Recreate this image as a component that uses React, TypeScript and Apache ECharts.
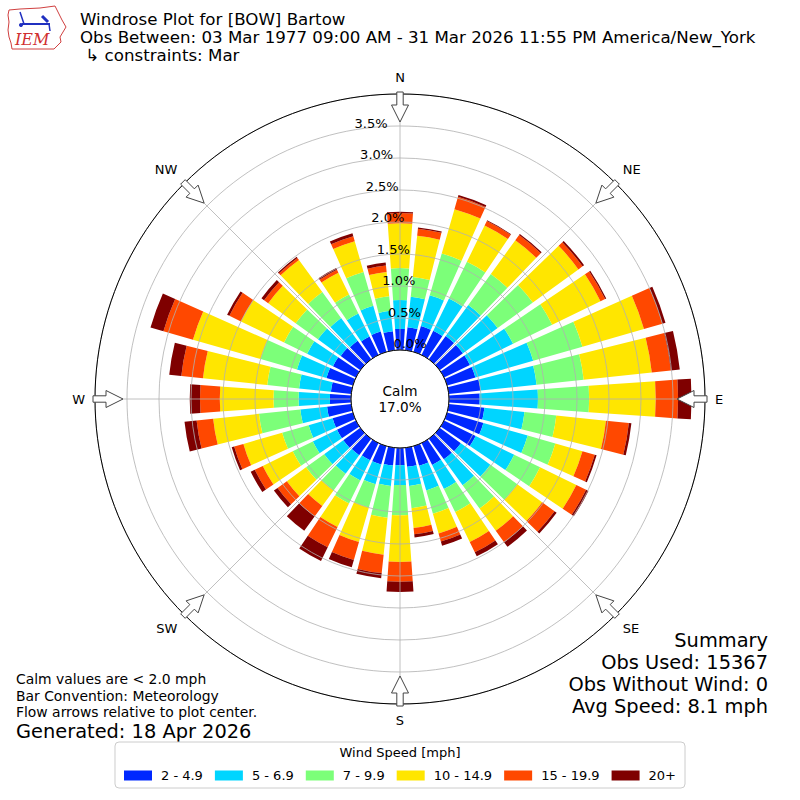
import React, { useEffect, useRef } from "react";
import * as echarts from "echarts";

// Directions (degrees, meteorological, clockwise from North)
const directions = [0, 10, 20, 30, 40, 50, 60, 70, 80, 90, 100, 110, 120, 130, 140, 150, 160, 170,
  180, 190, 200, 210, 220, 230, 240, 250, 260, 270, 280, 290, 300, 310, 320, 330, 340, 350];

const speedBins = ["2 - 4.9", "5 - 6.9", "7 - 9.9", "10 - 14.9", "15 - 19.9", "20+"];
const binColors = ["#0028ff", "#00d5ff", "#7cff79", "#ffe600", "#ff4800", "#7f0000"];

// Frequency (%) per direction for each speed bin
const bin2to5 = [0.33, 0.36, 0.42, 0.42, 0.45, 0.45, 0.45, 0.46, 0.50, 0.48, 0.56, 0.59, 0.55, 0.41, 0.40, 0.38, 0.32, 0.30,
  0.27, 0.28, 0.30, 0.30, 0.32, 0.33, 0.33, 0.33, 0.38, 0.33, 0.32, 0.43, 0.40, 0.38, 0.36, 0.32, 0.33, 0.30];
const bin5to7 = [0.45, 0.48, 0.50, 0.56, 0.60, 0.67, 0.75, 0.94, 0.88, 0.91, 0.63, 0.72, 0.67, 0.57, 0.50, 0.42, 0.40, 0.30,
  0.31, 0.32, 0.32, 0.35, 0.36, 0.37, 0.42, 0.39, 0.42, 0.49, 0.50, 0.48, 0.45, 0.44, 0.44, 0.40, 0.42, 0.32];
const bin7to10 = [0.50, 0.31, 0.68, 0.64, 0.60, 0.68, 0.68, 0.80, 0.74, 0.80, 0.50, 0.45, 0.45, 0.52, 0.45, 0.40, 0.38, 0.35,
  0.47, 0.50, 0.38, 0.40, 0.32, 0.35, 0.35, 0.43, 0.65, 0.39, 0.50, 0.59, 0.40, 0.43, 0.50, 0.33, 0.55, 0.23];
const bin10to15 = [0.70, 0.65, 0.72, 0.63, 0.65, 0.88, 0.84, 1.00, 1.07, 1.04, 0.78, 0.44, 0.63, 0.48, 0.43, 0.52, 0.32, 0.31,
  0.73, 0.58, 0.56, 0.41, 0.30, 0.37, 0.52, 0.63, 0.72, 0.84, 1.01, 1.10, 0.75, 0.53, 0.62, 0.38, 0.50, 0.38];
const bin15to20 = [0.16, 0.11, 0.20, 0.08, 0.10, 0.08, 0.08, 0.30, 0.30, 0.35, 0.36, 0.20, 0.17, 0.24, 0.22, 0.18, 0.13, 0.10,
  0.31, 0.29, 0.29, 0.35, 0.20, 0.18, 0.14, 0.15, 0.26, 0.31, 0.34, 0.48, 0.20, 0.08, 0.04, 0.05, 0.08, 0.10];
const bin20plus = [0.02, 0.02, 0.03, 0.01, 0.02, 0.03, 0.02, 0.05, 0.14, 0.21, 0.04, 0.03, 0.04, 0.04, 0.09, 0.07, 0.07, 0.05,
  0.16, 0.08, 0.12, 0.24, 0.28, 0.07, 0.07, 0.04, 0.19, 0.16, 0.19, 0.21, 0.04, 0.05, 0.02, 0.03, 0.05, 0.05];

const binValues = [bin2to5, bin5to7, bin7to10, bin10to15, bin15to20, bin20plus];

const radiusTicks = [0, 0.5, 1.0, 1.5, 2.0, 2.5, 3.0, 3.5];
const compassAngles = [0, 45, 90, 135, 180, 225, 270, 315];
const compassLabels = ["N", "NE", "E", "SE", "S", "SW", "W", "NW"];

const calmPct = "17.0%";
const titleLines = [
  "Windrose Plot for [BOW] Bartow",
  "Obs Between: 03 Mar 1977 09:00 AM - 31 Mar 2026 11:55 PM America/New_York",
  " \u21b3 constraints: Mar",
];
const noteLines = ["Calm values are < 2.0 mph", "Bar Convention: Meteorology", "Flow arrows relative to plot center."];
const generatedText = "Generated: 18 Apr 2026";
const summaryLines = ["Summary", "Obs Used: 15367", "Obs Without Wind: 0", "Avg Speed: 8.1 mph"];

const FONT = "DejaVu Sans";
const CX = 400;
const CY = 399;
const R0 = 49;
const R1 = 305;

function arrowPoints(deg: number): number[][] {
  const t = (deg * Math.PI) / 180;
  const ux = Math.sin(t), uy = -Math.cos(t);
  const px = Math.cos(t), py = Math.sin(t);
  const local = [[307, -3.2], [294, -3.2], [294, -8.5], [277, 0], [294, 8.5], [294, 3.2], [307, 3.2]];
  return local.map(([a, p]) => [CX + a * ux + p * px, CY + a * uy + p * py]);
}

export default function App() {
  const ref = useRef<HTMLDivElement>(null);
  useEffect(() => {
    if (!ref.current) return;
    const chart = echarts.init(ref.current, null, { renderer: "svg" });

    const graphics: any[] = [];
    titleLines.forEach((t, i) => {
      graphics.push({ type: "text", x: 80, y: 19 + i * 18, style: { text: t, fontSize: 16.67, lineHeight: 17, fontFamily: FONT, fill: "#000", verticalAlign: "middle" } });
    });
    noteLines.forEach((t, i) => {
      graphics.push({ type: "text", x: 16, y: 679 + i * 16.5, style: { text: t, fontSize: 13.9, lineHeight: 14, fontFamily: FONT, fill: "#000", verticalAlign: "middle" } });
    });
    graphics.push({ type: "text", x: 16, y: 731, style: { text: generatedText, fontSize: 19.4, lineHeight: 19, fontFamily: FONT, fill: "#000", verticalAlign: "middle" } });
    summaryLines.forEach((t, i) => {
      graphics.push({ type: "text", x: 768, y: 640 + i * 22, style: { text: t, fontSize: 19.4, lineHeight: 20, fontFamily: FONT, fill: "#000", align: "right", verticalAlign: "middle" } });
    });
    graphics.push({ type: "text", x: CX, y: CY, z: 20, style: { text: "Calm\n" + calmPct, fontSize: 13.6, lineHeight: 16, fontFamily: FONT, fill: "#000", align: "center", verticalAlign: "middle" } });
    compassAngles.forEach((a) => {
      graphics.push({ type: "polygon", z: 20, shape: { points: arrowPoints(a) }, style: { fill: "#fff", stroke: "#444", lineWidth: 1 } });
    });
    // legend title
    graphics.push({ type: "text", x: 400, y: 752, style: { text: "Wind Speed [mph]", fontSize: 13, fontFamily: FONT, fill: "#000", align: "center", verticalAlign: "middle" } });
    // IEM logo
    graphics.push({ type: "polyline", shape: { points: [[9, 10], [20, 9], [40, 8], [55, 6], [58, 12], [62, 20], [66, 27], [63, 32], [60, 37], [61, 42], [57, 46], [54, 49], [12, 49], [11, 43], [9, 37], [8, 30], [9, 22], [8, 15], [9, 10]] }, style: { stroke: "#d04040", lineWidth: 1, fill: "none" } });
    graphics.push({ type: "line", shape: { x1: 22, y1: 24, x2: 50, y2: 24 }, style: { stroke: "#2030c0", lineWidth: 2 } });
    graphics.push({ type: "line", shape: { x1: 20, y1: 12, x2: 24, y2: 24 }, style: { stroke: "#2030c0", lineWidth: 1.5 } });
    graphics.push({ type: "line", shape: { x1: 42, y1: 16, x2: 48, y2: 22 }, style: { stroke: "#2030c0", lineWidth: 3 } });
    graphics.push({ type: "line", shape: { x1: 49, y1: 24, x2: 50, y2: 31 }, style: { stroke: "#2030c0", lineWidth: 1.5 } });
    graphics.push({ type: "circle", shape: { cx: 21, cy: 25, r: 2 }, style: { fill: "#2030c0" } });
    graphics.push({ type: "text", x: 15, y: 39, style: { text: "IEM", fontSize: 16, fontStyle: "italic", fontFamily: "DejaVu Serif", fill: "#d03030", verticalAlign: "middle" } });

    const option: any = {
      animation: false,
      backgroundColor: "#fff",
      polar: [
        { center: [CX, CY], radius: [R0, R1] },
        { center: [CX, CY], radius: [R0, R1] },
        { center: [CX, CY], radius: [R0, R1] },
      ],
      angleAxis: [
        {
          polarIndex: 0, type: "category", data: directions.map(String), startAngle: 95, clockwise: true,
          axisLine: { show: false }, axisTick: { show: false }, axisLabel: { show: false }, splitLine: { show: false },
        },
        {
          polarIndex: 1, type: "value", min: 0, max: 360, startAngle: 100, clockwise: true,
          axisLine: { show: false }, axisTick: { show: false }, axisLabel: { show: false }, splitLine: { show: false },
        },
        {
          polarIndex: 2, type: "value", min: 0, max: 360, interval: 45, startAngle: 90, clockwise: true, z: 10,
          axisLine: { show: true, lineStyle: { color: "#000", width: 1 } },
          axisTick: { show: false },
          axisLabel: {
            margin: 10, fontSize: 13, fontFamily: FONT, color: "#000",
            formatter: (v: number) => { const i = compassAngles.indexOf(v); return i >= 0 ? compassLabels[i] : ""; },
          },
          splitLine: { show: true, lineStyle: { color: "#b0b0b0", width: 0.8 } },
        },
      ],
      radiusAxis: [
        { polarIndex: 0, type: "value", min: 0, max: 4, axisLine: { show: false }, axisTick: { show: false }, axisLabel: { show: false }, splitLine: { show: false } },
        {
          polarIndex: 1, type: "value", min: 0, max: 4, interval: 0.5, z: 11,
          axisLine: { show: false }, axisTick: { show: false }, splitLine: { show: false },
          axisLabel: {
            margin: -2, align: "left", fontSize: 13, fontFamily: FONT, color: "#000", verticalAlign: "bottom",
            formatter: (v: number) => (radiusTicks.indexOf(v) >= 0 ? v.toFixed(1) + "%" : ""),
          },
        },
        {
          polarIndex: 2, type: "value", min: 0, max: 4, interval: 0.5, z: 10,
          axisLine: { show: false }, axisTick: { show: false }, axisLabel: { show: false },
          splitLine: { show: true, lineStyle: { color: "#b0b0b0", width: 0.8 } },
        },
      ],
      legend: {
        data: speedBins, top: 742, left: "center", icon: "rect", itemWidth: 28, itemHeight: 10, itemGap: 12,
        borderColor: "#cccccc", borderWidth: 1, borderRadius: 4, padding: [27, 9, 6, 9],
        textStyle: { fontSize: 13, fontFamily: FONT, color: "#000", padding: [0, 0, 0, 4] },
      },
      series: speedBins.map((name, i) => ({
        name, type: "bar", coordinateSystem: "polar", polarIndex: 0, stack: "total",
        data: binValues[i], barCategoryGap: "20%",
        itemStyle: { color: binColors[i] },
      })),
      graphic: graphics,
    };
    chart.setOption(option);
    return () => chart.dispose();
  }, []);
  return <div ref={ref} style={{ position: "absolute", left: 0, top: 0, width: 800, height: 800 }} />;
}
